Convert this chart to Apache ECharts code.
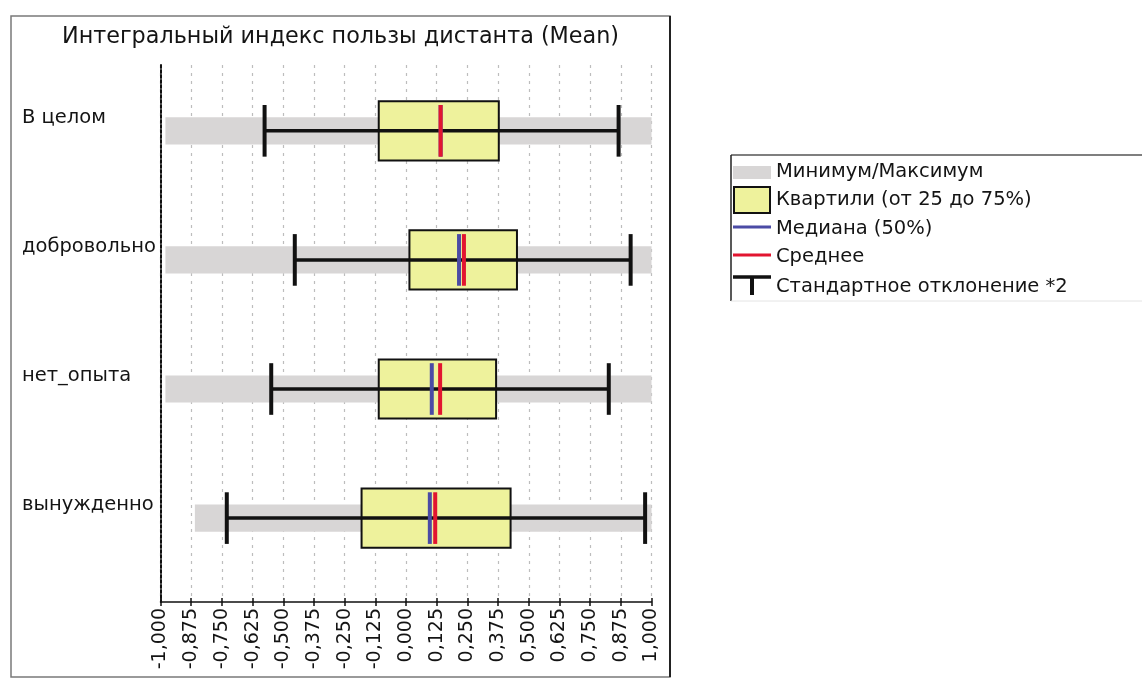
<!DOCTYPE html>
<html><head><meta charset="utf-8">
<script src="https://cdn.jsdelivr.net/npm/echarts@6/dist/echarts.min.js"></script>
<style>html,body{margin:0;padding:0;background:#fff}#main{width:1142px;height:679px}</style>
</head><body><div id="main"></div>
<script>
// ---- data ----
const categories = ['В целом', 'добровольно', 'нет_опыта', 'вынужденно'];
const minVals   = [-0.98, -0.98, -0.98, -0.86];
const maxVals   = [1.0, 1.0, 1.0, 1.0];
const sdLow     = [-0.576, -0.453, -0.549, -0.730];
const sdHigh    = [0.866, 0.915, 0.826, 0.974];
const q1Vals    = [-0.111, 0.014, -0.111, -0.181];
const q3Vals    = [0.378, 0.452, 0.367, 0.426];
const medianVals= [0.141, 0.216, 0.105, 0.097];
const meanVals  = [0.141, 0.236, 0.139, 0.119];
const titleText = 'Интегральный индекс пользы дистанта (Mean)';
const legendLabels = ['Минимум/Максимум', 'Квартили (от 25 до 75%)', 'Медиана (50%)', 'Среднее', 'Стандартное отклонение *2'];

// ---- style ----
const FONT = 'DejaVu Sans';
const TXT = '#141414';
const C_RANGE = '#d8d6d6';
const C_BOX = '#eef29c';
const C_MED = '#4b4ba5';
const C_MEAN = '#e21530';

function rangeItem(params, api) {
  const idx = api.value(2);
  const a = api.coord([api.value(0), idx]);
  const b = api.coord([api.value(1), idx]);
  const h = api.size([0, 1])[1] * 0.105;
  return { type: 'rect', shape: { x: a[0], y: a[1] - h, width: b[0] - a[0], height: 2 * h },
           style: { fill: C_RANGE } };
}
function boxItem(params, api) {
  const idx = api.value(2);
  const a = api.coord([api.value(0), idx]);
  const b = api.coord([api.value(1), idx]);
  const h = api.size([0, 1])[1] * 0.229;
  return { type: 'rect', shape: { x: a[0], y: a[1] - h, width: b[0] - a[0], height: 2 * h },
           style: { fill: C_BOX, stroke: '#111', lineWidth: 2 } };
}
function whiskerItem(params, api) {
  const idx = api.value(2);
  const a = api.coord([api.value(0), idx]);
  const b = api.coord([api.value(1), idx]);
  const h = api.size([0, 1])[1] * 0.2;
  return { type: 'group', children: [
    { type: 'line', shape: { x1: a[0], y1: a[1], x2: b[0], y2: b[1] }, style: { stroke: '#111', lineWidth: 3.5 } },
    { type: 'line', shape: { x1: a[0], y1: a[1] - h, x2: a[0], y2: a[1] + h }, style: { stroke: '#111', lineWidth: 4 } },
    { type: 'line', shape: { x1: b[0], y1: b[1] - h, x2: b[0], y2: b[1] + h }, style: { stroke: '#111', lineWidth: 4 } }
  ] };
}
function markItem(color) {
  return function (params, api) {
    const p = api.coord([api.value(0), api.value(1)]);
    const h = api.size([0, 1])[1] * 0.2;
    return { type: 'line', shape: { x1: p[0], y1: p[1] - h, x2: p[0], y2: p[1] + h },
             style: { stroke: color, lineWidth: 4 } };
  };
}

const idxs = categories.map((c, i) => i);
const fmt = v => v.toFixed(3).replace('.', ',');

// legend drawn as graphic elements
const LX = 733, LW = 38, LT = 776;
const legendY = [172, 200, 229, 257, 287];
const legendGraphics = [
  { type: 'line', shape: { x1: 731, y1: 155, x2: 1142, y2: 155 }, style: { stroke: '#555', lineWidth: 1.5 } },
  { type: 'line', shape: { x1: 731, y1: 155, x2: 731, y2: 301 }, style: { stroke: '#222', lineWidth: 1.5 } },
  { type: 'line', shape: { x1: 731, y1: 301, x2: 1142, y2: 301 }, style: { stroke: '#e4e4e4', lineWidth: 1 } },
  { type: 'rect', shape: { x: LX, y: legendY[0] - 6, width: LW, height: 13 }, style: { fill: C_RANGE } },
  { type: 'rect', shape: { x: LX + 1, y: legendY[1] - 13, width: LW - 2, height: 26 }, style: { fill: C_BOX, stroke: '#111', lineWidth: 2 } },
  { type: 'line', shape: { x1: LX, y1: legendY[2] - 2, x2: LX + LW, y2: legendY[2] - 2 }, style: { stroke: C_MED, lineWidth: 3 } },
  { type: 'line', shape: { x1: LX, y1: legendY[3] - 2, x2: LX + LW, y2: legendY[3] - 2 }, style: { stroke: C_MEAN, lineWidth: 3 } },
  { type: 'line', shape: { x1: LX, y1: legendY[4] - 10, x2: LX + LW, y2: legendY[4] - 10 }, style: { stroke: '#111', lineWidth: 3.5 } },
  { type: 'line', shape: { x1: LX + 19, y1: legendY[4] - 10, x2: LX + 19, y2: legendY[4] + 8 }, style: { stroke: '#111', lineWidth: 4 } }
].concat(legendLabels.map((t, i) => ({
  type: 'text', x: LT, y: legendY[i],
  style: { text: t, fill: TXT, font: '19.5px "' + FONT + '"', textAlign: 'left', textVerticalAlign: 'middle' }
})));

const option = {
  backgroundColor: '#fff',
  animation: false,
  textStyle: { fontFamily: FONT },
  title: {
    text: titleText, left: 340.5, top: 26, textAlign: 'center', padding: 0,
    textStyle: { fontFamily: FONT, fontSize: 22.3, fontWeight: 'normal', color: TXT }
  },
  grid: { left: 160.5, right: 490.5, top: 65, bottom: 77, containLabel: false },
  xAxis: [{
    type: 'value', min: -1, max: 1, interval: 0.125,
    axisLine: { show: true, onZero: false, lineStyle: { color: '#111', width: 1.5 } },
    axisTick: { show: true, length: 4, lineStyle: { color: '#111', width: 1.5 } },
    axisLabel: { rotate: 90, fontSize: 19, color: TXT, margin: 6, formatter: fmt, fontFamily: FONT },
    splitLine: { show: true, lineStyle: { color: '#bdbdbd', width: 1.2, type: [3, 5] } }
  }, {
    type: 'value', min: -1, max: 1, interval: 0.125, position: 'bottom',
    axisLine: { show: false, onZero: false },
    axisTick: { show: true, inside: true, length: 4, lineStyle: { color: '#111', width: 1.5 } },
    axisLabel: { show: false }, splitLine: { show: false }
  }],
  yAxis: {
    type: 'value', min: -0.51, max: 3.65, inverse: true,
    axisLine: { show: true, onZero: false, lineStyle: { color: '#111', width: 2, type: [3, 2] } },
    axisTick: { show: false },
    splitLine: { show: false },
    axisLabel: {
      customValues: idxs, formatter: v => categories[Math.round(v)],
      align: 'left', margin: 138.5, fontSize: 19.5, color: TXT, fontFamily: FONT,
      verticalAlign: 'bottom', lineHeight: 22, padding: [0, 0, 2, 0]
    }
  },
  series: [
    { type: 'custom', name: legendLabels[0], renderItem: rangeItem, encode: { x: [0, 1], y: 2 },
      data: idxs.map(i => [minVals[i], maxVals[i], i]) },
    { type: 'custom', name: legendLabels[1], renderItem: boxItem, encode: { x: [0, 1], y: 2 },
      data: idxs.map(i => [q1Vals[i], q3Vals[i], i]) },
    { type: 'custom', name: legendLabels[4], renderItem: whiskerItem, encode: { x: [0, 1], y: 2 },
      data: idxs.map(i => [sdLow[i], sdHigh[i], i]) },
    { type: 'custom', name: legendLabels[2], renderItem: markItem(C_MED), encode: { x: 0, y: 1 },
      data: idxs.map(i => [medianVals[i], i]) },
    { type: 'custom', name: legendLabels[3], renderItem: markItem(C_MEAN), encode: { x: 0, y: 1 },
      data: idxs.map(i => [meanVals[i], i]) }
  ],
  graphic: [
    { type: 'rect', shape: { x: 11, y: 16, width: 659, height: 661 }, style: { fill: null, stroke: '#7a7a7a', lineWidth: 1.5 }, silent: true },
    { type: 'line', shape: { x1: 670, y1: 16, x2: 670, y2: 677 }, style: { stroke: '#222', lineWidth: 2 }, silent: true }
  ].concat(legendGraphics)
};
const myChart = echarts.init(document.getElementById('main'));
myChart.setOption(option);
</script>
</body></html>
